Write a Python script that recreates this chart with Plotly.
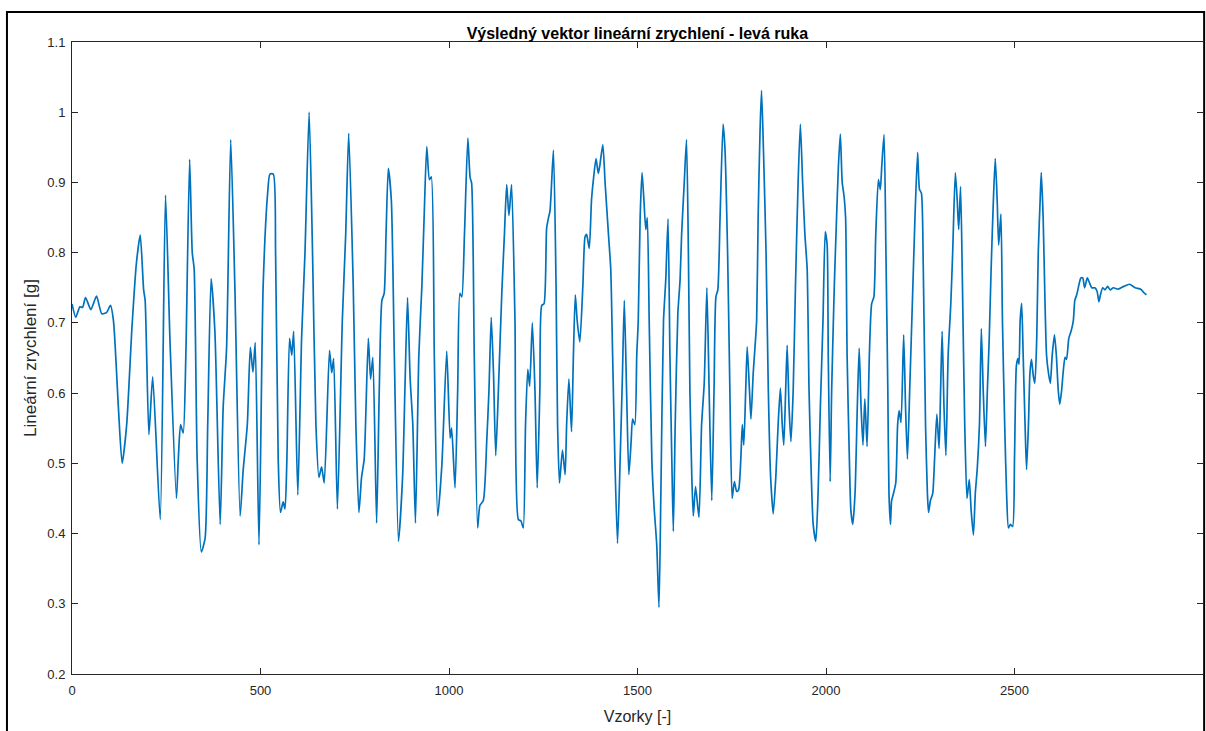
import plotly.graph_objects as go

# Sample index (x) and resulting linear acceleration magnitude [g] (y)
samples = [0, 10, 21, 28, 36, 50, 65, 79, 92, 102, 110, 123, 133, 145, 159, 171, 181, 190, 194, 204, 214, 234,
           248, 260, 277, 282, 288, 295, 302, 312, 319, 324, 332, 343, 353, 360, 369, 379, 393, 401, 410, 421,
           432, 446, 454, 465, 473, 480, 486, 496,
           507, 519, 525, 534, 540, 547, 553, 560, 565, 570, 577, 583, 588, 599, 609, 618, 629, 638, 647, 655,
           662, 669, 683, 689, 694, 704, 717, 726, 734,
           746, 753, 761, 768, 775, 786, 792, 798, 808, 815, 822, 828, 833, 839, 847, 855, 866, 877, 883, 890,
           897, 904, 911, 920, 928, 934, 941, 948, 953, 961, 970, 981, 994,
           1003, 1007, 1016, 1023, 1029, 1034, 1041, 1050, 1056, 1060, 1067, 1076, 1082, 1091, 1100, 1106, 1112,
           1118, 1124, 1131, 1140, 1147, 1153, 1159, 1166, 1175, 1184, 1191, 1197, 1203, 1209, 1214, 1221, 1228,
           1234, 1241, 1246, 1252,
           1259, 1264, 1268, 1277, 1284, 1288, 1293, 1301, 1308, 1312, 1318, 1325, 1330, 1335, 1340, 1347, 1355,
           1361, 1365, 1372, 1378, 1383, 1390, 1396, 1400, 1408, 1414, 1423, 1429, 1434, 1440, 1447, 1454, 1460,
           1465, 1471, 1477, 1483, 1487, 1493, 1498,
           1502, 1507, 1512, 1517, 1522, 1526, 1531, 1538, 1544, 1551, 1557, 1562, 1569, 1575, 1581, 1586, 1591,
           1595, 1600, 1607, 1613, 1617, 1624, 1630, 1635, 1639, 1644, 1648, 1654, 1663, 1670, 1677, 1684, 1690,
           1697, 1703, 1708, 1713, 1719, 1727, 1732, 1739, 1745, 1751, 1757,
           1763, 1768, 1774, 1778, 1782, 1787, 1791, 1797, 1801, 1807, 1812, 1816, 1820, 1825, 1829, 1834, 1841,
           1847, 1853, 1860, 1867, 1873, 1879, 1884, 1888, 1893, 1897, 1902, 1907, 1913, 1919, 1926, 1932, 1938,
           1944, 1950, 1955, 1961, 1966, 1973, 1979, 1985, 1992, 1998, 2003, 2006, 2011,
           2015, 2022, 2028, 2033, 2038, 2043, 2048, 2052, 2056, 2062, 2066, 2071, 2077, 2083, 2088, 2093, 2098,
           2103, 2109, 2115, 2121, 2127, 2132, 2139, 2144, 2148, 2154, 2159, 2164, 2167, 2171, 2174, 2179, 2185,
           2190, 2194, 2199, 2206, 2211, 2216, 2222, 2229, 2236, 2243, 2248, 2253, 2258,
           2264, 2269, 2272, 2277, 2283, 2288, 2294, 2300, 2304, 2308, 2313, 2318, 2324, 2331, 2336, 2343, 2348,
           2352, 2357, 2362, 2368, 2374, 2380, 2385, 2391, 2396, 2401, 2407, 2412, 2417, 2423, 2428, 2433, 2438,
           2444, 2449, 2454, 2458, 2464, 2468, 2474, 2479, 2484, 2489, 2495, 2500, 2505, 2509,
           2512, 2515, 2519, 2523, 2528, 2532, 2537, 2541, 2545, 2550, 2554, 2559, 2563, 2568, 2571, 2576, 2581,
           2585, 2590, 2595, 2600, 2606, 2611, 2616, 2620, 2625, 2629, 2634, 2638, 2644, 2650, 2656, 2660, 2665,
           2670, 2676, 2681, 2686, 2693, 2699, 2705, 2713, 2719, 2724, 2728, 2734, 2740, 2747, 2754, 2762,
           2775, 2790, 2805, 2820, 2835, 2845, 2850]

acceleration = [0.727, 0.708, 0.723, 0.722, 0.736, 0.719, 0.738, 0.713, 0.715, 0.725, 0.703, 0.58, 0.50, 0.555,
                0.693, 0.786, 0.825, 0.747, 0.732, 0.541, 0.623, 0.42,
                0.882, 0.673, 0.45, 0.506, 0.555, 0.543, 0.654, 0.933, 0.80, 0.777, 0.506, 0.374, 0.393, 0.555,
                0.763, 0.688, 0.413, 0.58, 0.664, 0.961, 0.752, 0.425, 0.49, 0.555, 0.665, 0.63, 0.672, 0.384,
                0.752, 0.885, 0.912, 0.912, 0.80, 0.506, 0.43, 0.445, 0.435, 0.506, 0.678, 0.654, 0.688, 0.455,
                0.678, 0.80, 1.0, 0.80, 0.555, 0.48, 0.495, 0.472, 0.661, 0.629, 0.649, 0.435, 0.703, 0.826, 0.97,
                0.752, 0.555, 0.43, 0.48, 0.506, 0.678, 0.62, 0.651, 0.415, 0.604, 0.732, 0.742, 0.826, 0.92, 0.875,
                0.654, 0.389, 0.482, 0.604, 0.736, 0.62, 0.555, 0.415, 0.654, 0.752, 0.85, 0.951, 0.904, 0.908,
                0.654, 0.425, 0.497, 0.66,
                0.536, 0.55, 0.465, 0.604, 0.742, 0.737, 0.826, 0.963, 0.907, 0.899, 0.654, 0.408, 0.44, 0.447,
                0.53, 0.604, 0.708, 0.629, 0.511, 0.604, 0.742, 0.826, 0.897, 0.853, 0.897, 0.703, 0.42, 0.418,
                0.408, 0.555, 0.634, 0.61, 0.70, 0.604, 0.465, 0.604, 0.725, 0.727,
                0.835, 0.85, 0.86, 0.946, 0.752, 0.555, 0.472, 0.519, 0.484, 0.555, 0.62, 0.545, 0.654, 0.74, 0.703,
                0.673, 0.752, 0.823, 0.826, 0.806, 0.875, 0.904, 0.934, 0.913, 0.924, 0.954, 0.90, 0.826, 0.777,
                0.654, 0.506, 0.386, 0.506, 0.624, 0.732, 0.604, 0.484, 0.53, 0.563, 0.555, 0.654,
                0.703, 0.85, 0.914, 0.875, 0.833, 0.85, 0.703, 0.506, 0.438, 0.384, 0.295, 0.457, 0.703, 0.762,
                0.848, 0.654, 0.506, 0.403, 0.555, 0.713, 0.762, 0.826, 0.90, 0.961, 0.80, 0.604, 0.482, 0.425,
                0.467, 0.423, 0.555, 0.614, 0.75, 0.604, 0.447, 0.604, 0.737, 0.747, 0.85, 0.983, 0.948, 0.80,
                0.604, 0.45, 0.474,
                0.46, 0.462, 0.506, 0.555, 0.526, 0.604, 0.666, 0.604, 0.563, 0.629, 0.668, 0.703, 0.85, 0.973,
                1.031, 0.948, 0.80, 0.604, 0.482, 0.428, 0.482, 0.555, 0.607, 0.555, 0.526, 0.604, 0.668, 0.58,
                0.531, 0.604, 0.752, 0.90, 0.983, 0.90, 0.826, 0.777, 0.604, 0.482, 0.413, 0.389, 0.457, 0.58,
                0.703, 0.83, 0.811, 0.654, 0.474,
                0.604, 0.752, 0.85, 0.924, 0.969, 0.90, 0.88, 0.85, 0.654, 0.506, 0.433, 0.413, 0.457, 0.58, 0.664,
                0.58, 0.526, 0.592, 0.524, 0.654, 0.727, 0.737, 0.826, 0.904, 0.89, 0.924, 0.968, 0.80, 0.604,
                0.457, 0.413, 0.447, 0.457, 0.472, 0.555, 0.575, 0.558, 0.683, 0.58, 0.506, 0.604, 0.727, 0.85,
                0.943, 0.89, 0.885, 0.78,
                0.555, 0.457, 0.43, 0.447, 0.457, 0.506, 0.57, 0.521, 0.604, 0.688, 0.58, 0.511, 0.654, 0.727, 0.80,
                0.914, 0.875, 0.833, 0.894, 0.752, 0.555, 0.45, 0.477, 0.433, 0.398, 0.457, 0.491, 0.555, 0.692,
                0.604, 0.524, 0.604, 0.678, 0.777, 0.875, 0.934, 0.875, 0.811, 0.855, 0.703, 0.555, 0.457, 0.408,
                0.413, 0.41, 0.506, 0.639, 0.649,
                0.641, 0.703, 0.728, 0.654, 0.555, 0.491, 0.555, 0.629, 0.648, 0.624, 0.614, 0.678, 0.80, 0.875,
                0.914, 0.85, 0.727, 0.654, 0.629, 0.614, 0.654, 0.683, 0.654, 0.604, 0.584, 0.604, 0.629, 0.651,
                0.648, 0.678, 0.688, 0.703, 0.732, 0.74, 0.752, 0.764, 0.764, 0.75, 0.764, 0.757, 0.75, 0.75,
                0.745, 0.73, 0.74, 0.75, 0.747, 0.752, 0.747, 0.75,
                0.748, 0.752, 0.755, 0.75, 0.748, 0.742, 0.74]

x_ticks = [0, 500, 1000, 1500, 2000, 2500, 3000]
y_ticks = [0.2, 0.3, 0.4, 0.5, 0.6, 0.7, 0.8, 0.9, 1.0, 1.1]
y_tick_labels = ["0.2", "0.3", "0.4", "0.5", "0.6", "0.7", "0.8", "0.9", "1", "1.1"]

title_text = "Výsledný vektor lineární zrychlení - levá ruka"
x_label = "Vzorky [-]"
y_label = "Lineární zrychlení [g]"

axis_color = "#262626"
font_family = "Liberation Sans, Arial, sans-serif"

fig = go.Figure()
fig.add_trace(go.Scatter(
    x=samples, y=acceleration, mode="lines",
    line=dict(color="#0072BD", width=1.7, shape="spline", smoothing=0.6),
    showlegend=False, hoverinfo="x+y",
))

axis_common = dict(
    showgrid=False, zeroline=False, showline=True, linecolor=axis_color, linewidth=1,
    mirror="ticks", ticks="inside", ticklen=6, tickcolor=axis_color, tickwidth=1,
    tickfont=dict(family=font_family, size=13, color=axis_color),
)

fig.update_xaxes(range=[0, 3000], tickvals=x_ticks, ticklabelstandoff=4, **axis_common,
                 title=dict(text=x_label, font=dict(family=font_family, size=16, color=axis_color), standoff=14))
fig.update_yaxes(range=[0.2, 1.1], tickvals=y_ticks, ticktext=y_tick_labels, ticklabelstandoff=3, **axis_common,
                 title=dict(text=y_label, font=dict(family=font_family, size=17, color=axis_color), standoff=6))

fig.update_layout(
    width=1206, height=731,
    margin=dict(l=72, r=3, t=42, b=57),
    paper_bgcolor="white", plot_bgcolor="white",
    title=dict(text="<b>" + title_text + "</b>", x=0.5285, xanchor="center", xref="container",
               y=1 - 33 / 731, yref="container", yanchor="middle",
               font=dict(family=font_family, size=16, color="black")),
    shapes=[dict(type="rect", xref="paper", yref="paper",
                 x0=-0.0575, x1=1.001, y0=-0.2, y1=1.0475,
                 line=dict(color="black", width=2), fillcolor="rgba(0,0,0,0)", layer="below")],
)

fig.write_html("out.html")
